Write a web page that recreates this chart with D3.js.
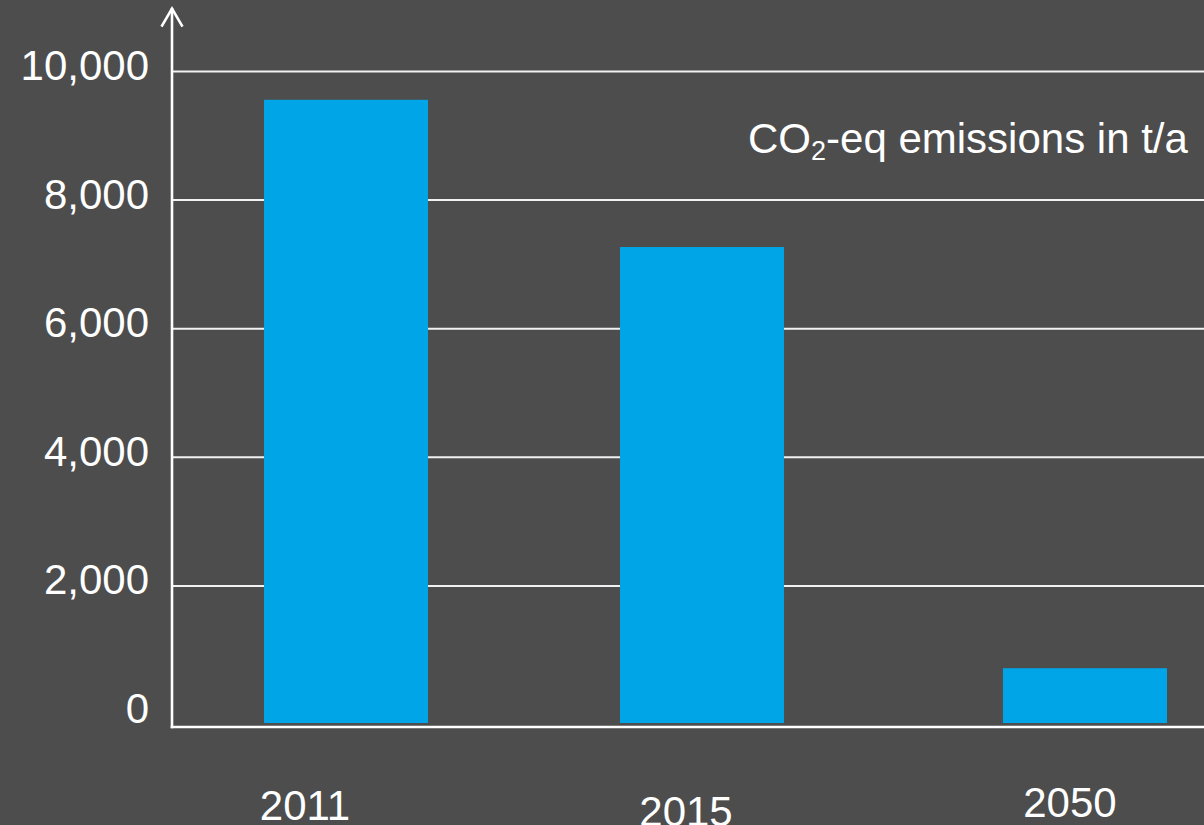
<!DOCTYPE html>
<html>
<head>
<meta charset="utf-8">
<script src="https://cdn.jsdelivr.net/npm/d3@7"></script>
<style>
  html, body { margin: 0; padding: 0; background: #4d4d4d; }
  svg { display: block; }
  text { font-family: "Liberation Sans", Arial, sans-serif; fill: #ffffff; }
</style>
</head>
<body>
<svg id="chart" width="1204" height="825"></svg>
<script>
// ---- data ----
const years = ["2011", "2015", "2050"];
const emissions = [9560, 7270, 720];
const yTicks = [0, 2000, 4000, 6000, 8000, 10000];
const unitLabel = ["CO", "2", "-eq emissions in t/a"];

// ---- layout / style ----
const W = 1204, H = 825;
const axisX = 172, axisBottom = 727, arrowTop = 8;
const fontSize = 42;
const barExtend = 8.5;                  // bars run slightly below zero line
const barNudge = [0, -13.5, 0];          // slight irregular placement of bars
const labelDx = [-41, -16, -15];         // year labels offset from bar centre
const labelBaseline = [820, 826, 817];
const barColor = "#00a5e8";
const gridColor = "#f2f2f2";

const svg = d3.select("#chart");
svg.append("rect").attr("width", W).attr("height", H).attr("fill", "#4d4d4d");

const y = d3.scaleLinear().domain([0, 10000]).range([714.5, 71.5]);
const x = d3.scaleBand().domain(years).range([172, 1259])
  .paddingInner(0.556).paddingOuter(0.249);

// gridlines (not for zero)
svg.append("g").selectAll("line")
  .data(yTicks.filter(d => d > 0))
  .join("line")
  .attr("x1", axisX).attr("x2", W)
  .attr("y1", d => y(d)).attr("y2", d => y(d))
  .attr("stroke", gridColor).attr("stroke-width", 2);

// tick labels
svg.append("g").selectAll("text")
  .data(yTicks)
  .join("text")
  .attr("x", 149)
  .attr("y", d => y(d) + 8.5)
  .attr("text-anchor", "end")
  .attr("font-size", fontSize)
  .text(d => d3.format(",")(d));

// bars
svg.append("g").selectAll("rect")
  .data(years.map((yr, i) => ({ yr, v: emissions[i], i })))
  .join("rect")
  .attr("x", d => x(d.yr) + barNudge[d.i])
  .attr("y", d => y(d.v))
  .attr("width", x.bandwidth())
  .attr("height", d => y(0) - y(d.v) + barExtend)
  .attr("fill", barColor);

// axes
svg.append("line")
  .attr("x1", axisX).attr("x2", axisX)
  .attr("y1", arrowTop).attr("y2", axisBottom + 1.3)
  .attr("stroke", "#ffffff").attr("stroke-width", 2.6);
svg.append("path")
  .attr("d", `M${axisX - 10.5},${arrowTop + 18.7} L${axisX},${arrowTop + 0.5} L${axisX + 10.5},${arrowTop + 18.7}`)
  .attr("fill", "none").attr("stroke", "#ffffff").attr("stroke-width", 2.6)
  .attr("stroke-linejoin", "miter");
svg.append("line")
  .attr("x1", axisX - 1.3).attr("x2", W)
  .attr("y1", axisBottom).attr("y2", axisBottom)
  .attr("stroke", "#ffffff").attr("stroke-width", 2.6);

// year labels
svg.append("g").selectAll("text")
  .data(years.map((yr, i) => ({ yr, i })))
  .join("text")
  .attr("x", d => x(d.yr) + barNudge[d.i] + x.bandwidth() / 2 + labelDx[d.i])
  .attr("y", d => labelBaseline[d.i])
  .attr("text-anchor", "middle")
  .attr("font-size", fontSize)
  .text(d => d.yr);

// unit annotation with subscript
const ann = svg.append("text")
  .attr("x", 748).attr("y", 153)
  .attr("font-size", fontSize);
ann.append("tspan").text(unitLabel[0]);
ann.append("tspan").attr("font-size", 27).attr("dy", 7).text(unitLabel[1]);
ann.append("tspan").attr("dy", -7).text(unitLabel[2]);
</script>
</body>
</html>
